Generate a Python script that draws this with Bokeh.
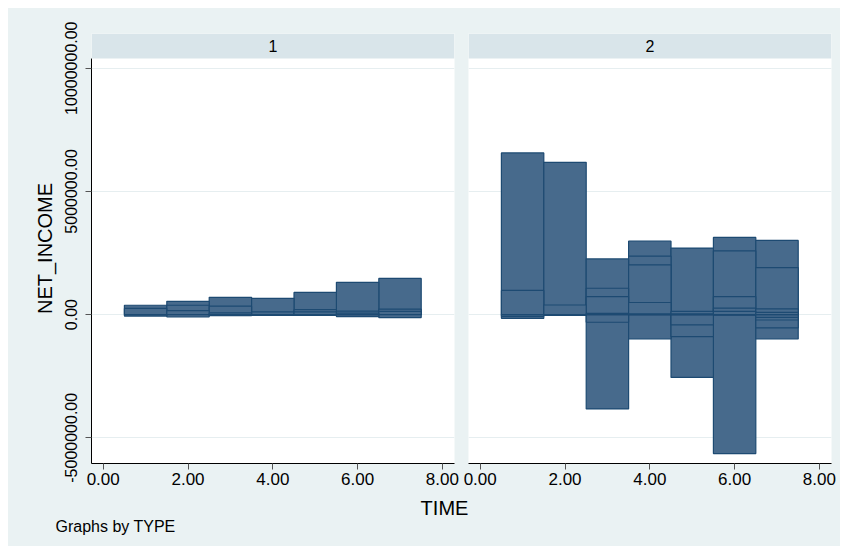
from bokeh.plotting import figure
from bokeh.layouts import row, column
from bokeh.models import (Range1d, FixedTicker, BoxAnnotation, Label, Grid,
                          ColumnDataSource)
from bokeh.embed import file_html
from bokeh.resources import INLINE

# ---------------- data ----------------
panel_names = ["1", "2"]

time_1 = [1, 1, 1,
          2, 2, 2, 2,
          3, 3, 3, 3,
          4, 4, 4,
          5, 5, 5, 5,
          6, 6, 6, 6,
          7, 7, 7, 7]
income_1 = [380000, 250000, -60000,
            540000, 380000, 160000, -90000,
            700000, 340000, 70000, -40000,
            660000, 110000, -30000,
            900000, 200000, 110000, -30000,
            1310000, 140000, 60000, -80000,
            1470000, 220000, 130000, -120000]

time_2 = [1, 1, 1, 1,
          2, 2, 2,
          3, 3, 3, 3, 3, 3,
          4, 4, 4, 4, 4, 4,
          5, 5, 5, 5, 5, 5,
          6, 6, 6, 6, 6, 6,
          7, 7, 7, 7, 7, 7, 7, 7]
income_2 = [6560000, 980000, -150000, -70000,
            6180000, 390000, -30000,
            2260000, 1070000, 730000, 50000, -310000, -3830000,
            2980000, 2370000, 2020000, 490000, 30000, -990000,
            2700000, 130000, 30000, -420000, -890000, -2550000,
            3130000, 2590000, 730000, 260000, 130000, -5640000,
            3010000, 1910000, 230000, 90000, -110000, -220000, -540000, -990000]

x_ticks = [0, 2, 4, 6, 8]
x_tick_labels = ["0.00", "2.00", "4.00", "6.00", "8.00"]
y_ticks = [-5000000, 0, 5000000, 10000000]
y_tick_labels = ["-5000000.00", "0.00", "5000000.00", "10000000.00"]

# ---------------- styles ----------------
BG = "#eaf2f3"
STRIP = "#d9e5ea"
GRID = "#e6eef0"
FILL = "#476a8c"
EDGE = "#1d4a72"
FONT = "Liberation Sans"

X_START, X_END = -0.276, 8.285
Y_START, Y_END = -6043000, 11408000
STRIP_BOTTOM = 10393000

yr = Range1d(Y_START, Y_END)


def make_panel(name, times, values, width, left, right, show_y):
    xr = Range1d(X_START, X_END)
    p = figure(width=width, height=485, x_range=xr, y_range=yr,
               output_backend="svg", toolbar_location=None,
               min_border_left=left, min_border_right=right,
               min_border_top=25, min_border_bottom=30,
               y_axis_location="left" if show_y else None)
    p.background_fill_color = "white"
    p.border_fill_color = BG
    p.outline_line_color = None
    p.grid.visible = False

    g = Grid(dimension=1, ticker=FixedTicker(ticks=y_ticks),
             grid_line_color=GRID, grid_line_width=1)
    p.add_layout(g)

    # draw bigger bars first so that the smaller ones stay visible
    order = sorted(range(len(values)), key=lambda i: -abs(values[i]))
    src = ColumnDataSource(dict(x=[times[i] for i in order],
                                top=[values[i] for i in order]))
    p.vbar(x="x", top="top", bottom=0, width=1.0, source=src,
           fill_color=FILL, line_color=EDGE, line_width=1.2)

    # x axis
    xa = p.xaxis[0]
    xa.ticker = FixedTicker(ticks=x_ticks)
    xa.major_label_overrides = {t: l for t, l in zip(x_ticks, x_tick_labels)}
    xa.minor_tick_line_color = None
    xa.major_tick_out = 6
    xa.major_tick_in = 0
    xa.major_label_standoff = 3
    xa.major_label_text_font = FONT
    xa.major_label_text_font_size = "17px"
    xa.major_label_text_color = "black"
    xa.axis_line_color = "black"
    xa.major_tick_line_color = "#555555"
    xa.bounds = (X_START, X_END)

    if show_y:
        ya = p.yaxis[0]
        ya.ticker = FixedTicker(ticks=y_ticks)
        ya.major_label_overrides = {t: l for t, l in zip(y_ticks, y_tick_labels)}
        ya.minor_tick_line_color = None
        ya.major_tick_out = 6
        ya.major_tick_in = 0
        ya.major_label_standoff = 8
        ya.major_label_orientation = "vertical"
        ya.major_label_text_font = FONT
        ya.major_label_text_font_size = "16px"
        ya.major_label_text_color = "black"
        ya.axis_line_color = "black"
        ya.major_tick_line_color = "#555555"
        ya.bounds = (Y_START, STRIP_BOTTOM)
        ya.axis_label = "NET_INCOME"
        ya.axis_label_text_font = FONT
        ya.axis_label_text_font_size = "20px"
        ya.axis_label_text_font_style = "normal"
        ya.axis_label_text_color = "black"
        ya.axis_label_standoff = 7

    # header strip with the panel name
    p.add_layout(BoxAnnotation(bottom=STRIP_BOTTOM, fill_color=STRIP,
                               fill_alpha=1.0, line_color=None))
    p.add_layout(Label(x=(X_START + X_END) / 2, y=(STRIP_BOTTOM + Y_END) / 2,
                       text=name, text_align="center", text_baseline="middle",
                       text_font=FONT, text_font_size="16px",
                       text_color="black"))
    return p


p1 = make_panel(panel_names[0], time_1, income_1, 453, 83, 7, True)
p2 = make_panel(panel_names[1], time_2, income_2, 379, 7, 9, False)

# bottom strip with the common x title and the note
pb = figure(width=832, height=53, x_range=Range1d(0, 832), y_range=Range1d(53, 0),
            output_backend="svg", toolbar_location=None,
            x_axis_location=None, y_axis_location=None, min_border=0)
pb.background_fill_color = BG
pb.border_fill_color = BG
pb.outline_line_color = None
pb.grid.visible = False
pb.add_layout(Label(x=436, y=14, text="TIME", text_align="center",
                    text_baseline="middle", text_font=FONT,
                    text_font_size="20px", text_color="black"))
pb.add_layout(Label(x=47, y=33, text="Graphs by TYPE", text_align="left",
                    text_baseline="middle", text_font=FONT,
                    text_font_size="16px", text_color="black"))

top_row = row(p1, p2, spacing=0, styles={"background-color": BG})
layout = column(top_row, pb, spacing=0, margin=(8, 8, 8, 8),
                styles={"background-color": BG})

open("out.html", "w").write(file_html(layout, INLINE))
